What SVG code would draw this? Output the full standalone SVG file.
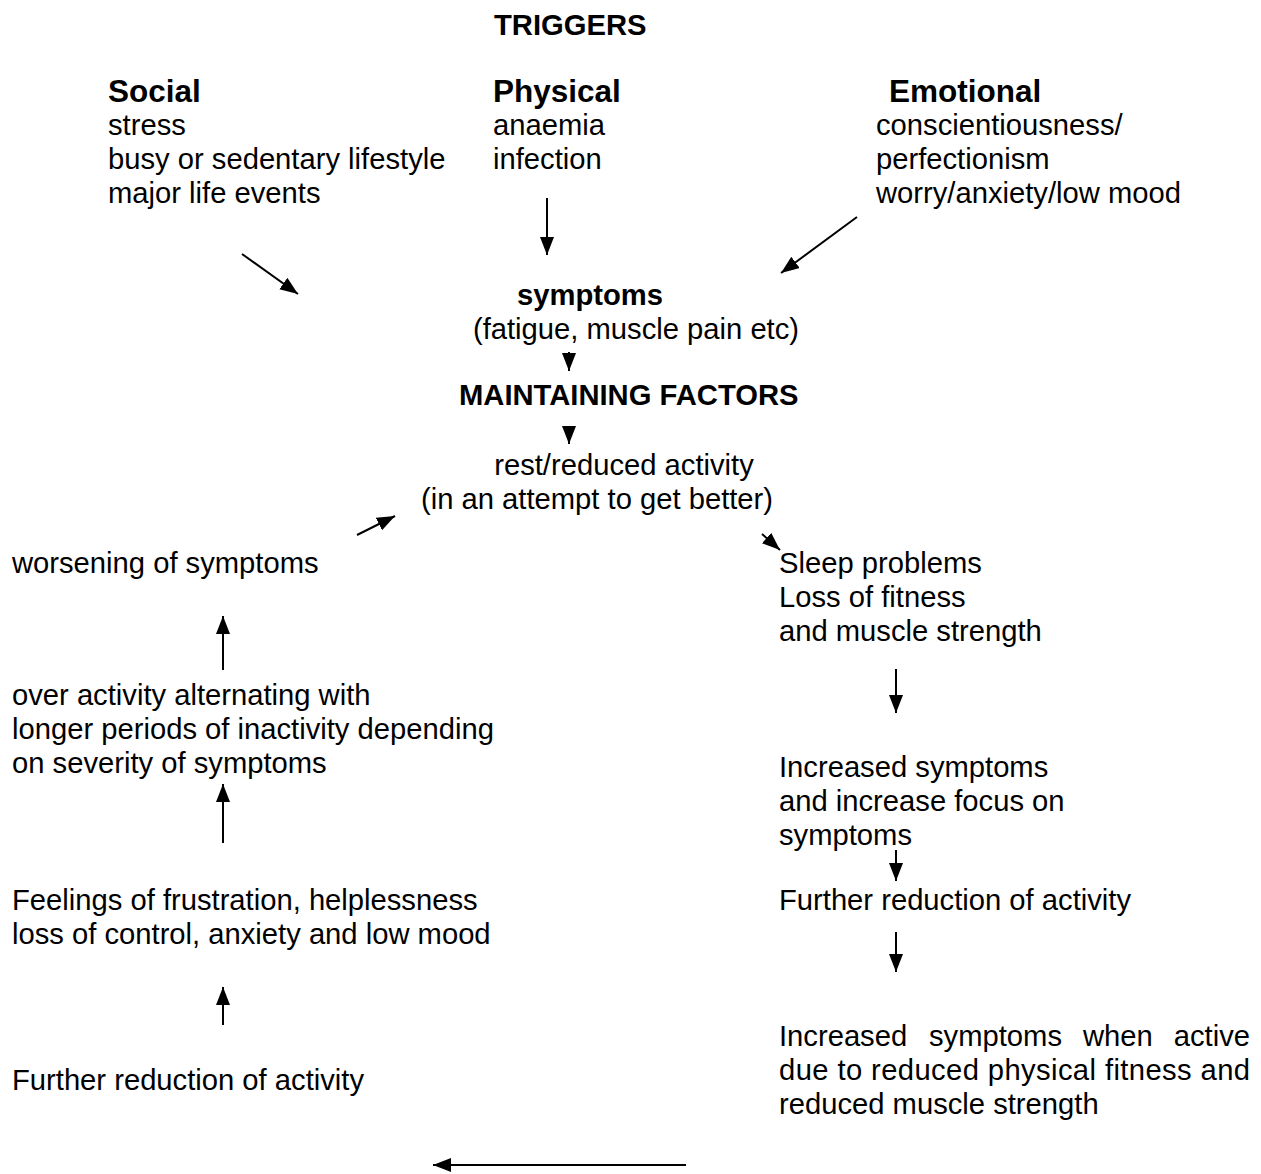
<svg xmlns="http://www.w3.org/2000/svg" width="1261" height="1174" viewBox="0 0 1261 1174">
<style>
text{font-family:"Liberation Sans",Arial,sans-serif;font-size:29.2px;fill:#000}
.b{font-weight:bold}
.h{font-weight:bold;font-size:31.5px}
.c line{stroke:#000;stroke-width:2}
</style>
<defs>
<marker id="ah" markerUnits="userSpaceOnUse" markerWidth="20" markerHeight="16" refX="18" refY="7" orient="auto">
<path d="M0,0 L18,7 L0,14 Z" fill="#000"/>
</marker>
</defs>
<rect width="1261" height="1174" fill="#fff"/>
<g id="triggers"><text class="b" x="494" y="35">TRIGGERS</text></g>
<g id="social">
<text class="h" x="108" y="102">Social</text>
<text x="108" y="135">stress</text>
<text x="108" y="169">busy or sedentary lifestyle</text>
<text x="108" y="203">major life events</text>
</g>
<g id="physical">
<text class="h" x="493" y="102">Physical</text>
<text x="493" y="135">anaemia</text>
<text x="493" y="169">infection</text>
</g>
<g id="emotional">
<text class="h" x="889" y="102">Emotional</text>
<text x="876" y="135">conscientiousness/</text>
<text x="876" y="169">perfectionism</text>
<text x="876" y="203">worry/anxiety/low mood</text>
</g>
<g id="symptoms">
<text class="b" x="590" y="305" text-anchor="middle">symptoms</text>
<text x="636" y="339" text-anchor="middle">(fatigue, muscle pain etc)</text>
</g>
<g id="maintaining"><text class="b" x="459" y="405">MAINTAINING FACTORS</text></g>
<g id="rest">
<text x="624" y="475" text-anchor="middle">rest/reduced activity</text>
<text x="597" y="509" text-anchor="middle">(in an attempt to get better)</text>
</g>
<g id="worsening"><text x="12" y="573">worsening of symptoms</text></g>
<g id="sleep">
<text x="779" y="573">Sleep problems</text>
<text x="779" y="607">Loss of fitness</text>
<text x="779" y="641">and muscle strength</text>
</g>
<g id="overactivity">
<text x="12" y="705">over activity alternating with</text>
<text x="12" y="739">longer periods of inactivity depending</text>
<text x="12" y="773">on severity of symptoms</text>
</g>
<g id="increased">
<text x="779" y="777">Increased symptoms</text>
<text x="779" y="811">and increase focus on</text>
<text x="779" y="845">symptoms</text>
</g>
<g id="feelings">
<text x="12" y="910">Feelings of frustration, helplessness</text>
<text x="12" y="944">loss of control, anxiety and low mood</text>
</g>
<g id="further-right"><text x="779" y="910">Further reduction of activity</text></g>
<g id="increased-active">
<text x="779" y="1046">Increased</text>
<text x="929" y="1046">symptoms</text>
<text x="1083" y="1046">when</text>
<text x="1250" y="1046" text-anchor="end">active</text>
<text x="779" y="1080" textLength="471" lengthAdjust="spacing">due to reduced physical fitness and</text>
<text x="779" y="1114">reduced muscle strength</text>
</g>
<g id="further-left"><text x="12" y="1090">Further reduction of activity</text></g>
<g class="c" id="connectors">
<line x1="242" y1="254" x2="298" y2="294" marker-end="url(#ah)"/>
<line x1="547" y1="198" x2="547" y2="255" marker-end="url(#ah)"/>
<line x1="857" y1="217" x2="781" y2="273" marker-end="url(#ah)"/>
<line x1="569" y1="352" x2="569" y2="371" marker-end="url(#ah)"/>
<line x1="569" y1="426" x2="569" y2="444" marker-end="url(#ah)"/>
<line x1="357" y1="535" x2="395" y2="516" marker-end="url(#ah)"/>
<line x1="762" y1="534" x2="780" y2="550" marker-end="url(#ah)"/>
<line x1="223" y1="670" x2="223" y2="616" marker-end="url(#ah)"/>
<line x1="896" y1="669" x2="896" y2="713" marker-end="url(#ah)"/>
<line x1="223" y1="843" x2="223" y2="784" marker-end="url(#ah)"/>
<line x1="896" y1="850" x2="896" y2="881" marker-end="url(#ah)"/>
<line x1="896" y1="932" x2="896" y2="972" marker-end="url(#ah)"/>
<line x1="223" y1="1025" x2="223" y2="987" marker-end="url(#ah)"/>
<line x1="686" y1="1165" x2="433" y2="1165" marker-end="url(#ah)"/>
</g>
</svg>
